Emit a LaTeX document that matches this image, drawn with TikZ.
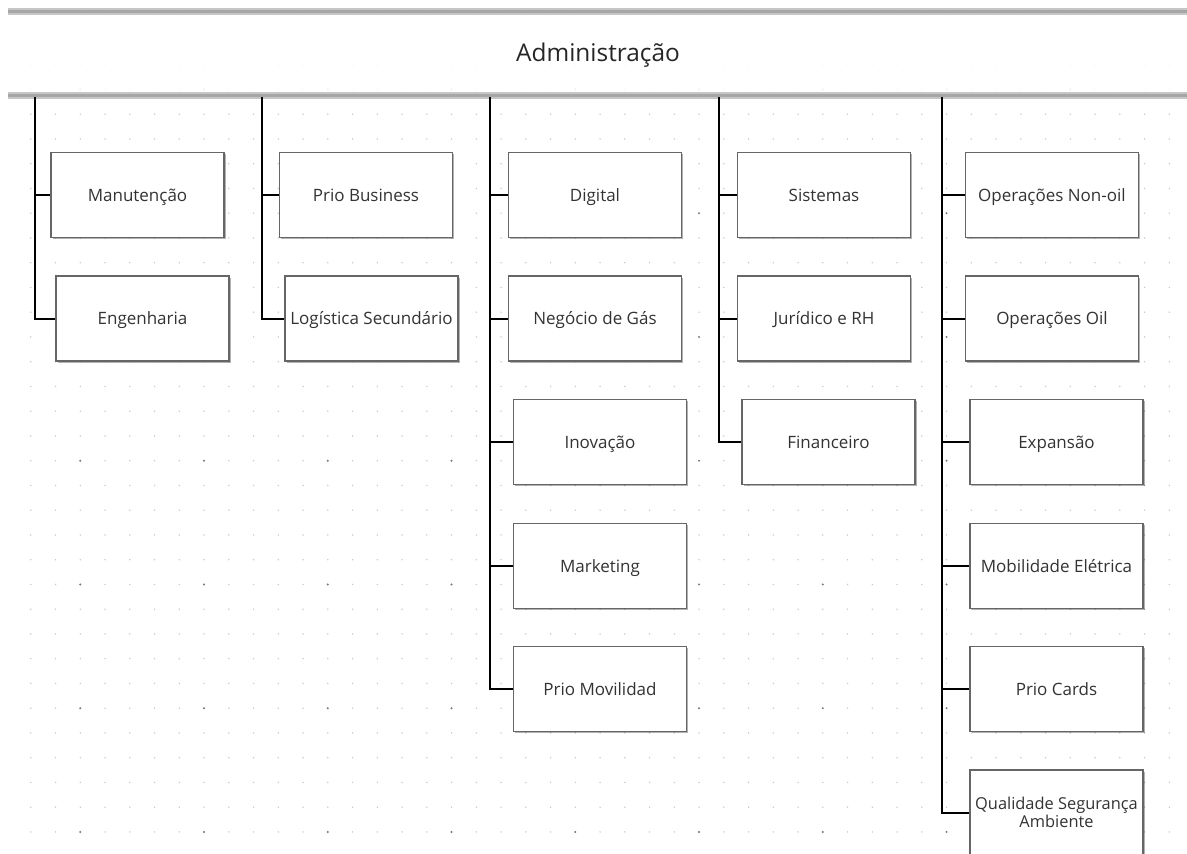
\documentclass[tikz,border=0pt]{standalone}
\usepackage{fontspec}
\setmainfont{Open Sans}
\usetikzlibrary{shadows}
\definecolor{txt}{HTML}{333333}
\definecolor{edge}{HTML}{666666}
\definecolor{dotminor}{HTML}{C8C8C8}
\definecolor{dotmajor}{HTML}{7A7A7A}

\begin{document}
\begin{tikzpicture}[x=1pt,y=-1pt,
  unitbase/.style={draw=edge, line width=1.2pt, fill=white,
    minimum width=173pt, minimum height=85pt, inner sep=0pt,
    text=txt, align=center,
    drop shadow={shadow xshift=1.6pt, shadow yshift=-1.6pt, opacity=0.3, fill=black}},
  unit/.style={unitbase, font=\fontsize{17}{18}\selectfont,
    text height=12.2pt, text depth=0pt},
  unittwo/.style={unitbase, font=\fontsize{16.4}{17.5}\selectfont},
  link/.style={line width=2pt, black},
  bandouter/.style={line width=6.5pt, gray!45},
  bandinner/.style={line width=2.5pt, gray!70},
  title/.style={text=black!85, font=\fontsize{24.4}{28}\selectfont,
    inner sep=0pt, text height=17.4pt, text depth=0pt}]

\useasboundingbox (0,0) rectangle (1187,854);
\fill[white] (0,0) rectangle (1187,854);

% dotted canvas grid, with a darker dot every fifth step
\foreach \i in {1,...,47} {
  \foreach \j in {0,...,34} {
    \fill[dotminor] (6.05+24.75*\i, 15.2+24.75*\j) circle (0.8);
  }
}
\foreach \i in {3,8,...,43} {
  \foreach \j in {3,8,...,33} {
    \fill[dotmajor] (6.05+24.75*\i, 15.2+24.75*\j) circle (1.1);
  }
}

% header band
\fill[white, opacity=0.88] (8,15) rectangle (1187,92);
\draw[bandouter] (8,11.7) -- (1187,11.7);
\draw[bandinner] (8,11.7) -- (1187,11.7);
\draw[bandouter] (8,95.3) -- (1187,95.3);
\draw[bandinner] (8,95.3) -- (1187,95.3);
\node[title] (admin) at (598,53) {Administração};

% departments
\node[unit] (man) at (137.5,195)   {Manutenção};
\node[unit] (eng) at (142.5,318.5) {Engenharia};

\node[unit] (pb)  at (366,195)     {Prio Business};
\node[unit] (log) at (371.5,318.5) {Logística Secundário};

\node[unit] (dig) at (595,195)     {Digital};
\node[unit] (neg) at (595,318.5)   {Negócio de Gás};
\node[unit] (ino) at (600,442)     {Inovação};
\node[unit] (mkt) at (600,566)     {Marketing};
\node[unit] (mov) at (600,689)     {Prio Movilidad};

\node[unit] (sis) at (824,195)     {Sistemas};
\node[unit] (jur) at (824,318.5)   {Jurídico e RH};
\node[unit] (fin) at (828.5,442)   {Financeiro};

\node[unit] (non) at (1052,195)    {Operações Non-oil};
\node[unit] (oil) at (1052,318.5)  {Operações Oil};
\node[unit] (exp) at (1056.5,442)  {Expansão};
\node[unit] (mob) at (1056.5,566)  {Mobilidade Elétrica};
\node[unit] (crd) at (1056.5,689)  {Prio Cards};
\node[unittwo] (qsa) at (1056.5,812.5) {Qualidade Segurança\\Ambiente};

% trunk lines hanging from the header
\coordinate (t1) at (35,97);
\coordinate (t2) at (262,97);
\coordinate (t3) at (490,97);
\coordinate (t4) at (719,97);
\coordinate (t5) at (942,97);

\draw[link] (t1) |- (eng.west);
\draw[link] (t1 |- man.west) -- (man.west);

\draw[link] (t2) |- (log.west);
\draw[link] (t2 |- pb.west) -- (pb.west);

\draw[link] (t3) |- (mov.west);
\draw[link] (t3 |- dig.west) -- (dig.west);
\draw[link] (t3 |- neg.west) -- (neg.west);
\draw[link] (t3 |- ino.west) -- (ino.west);
\draw[link] (t3 |- mkt.west) -- (mkt.west);

\draw[link] (t4) |- (fin.west);
\draw[link] (t4 |- sis.west) -- (sis.west);
\draw[link] (t4 |- jur.west) -- (jur.west);

\draw[link] (t5) |- (qsa.west);
\draw[link] (t5 |- non.west) -- (non.west);
\draw[link] (t5 |- oil.west) -- (oil.west);
\draw[link] (t5 |- exp.west) -- (exp.west);
\draw[link] (t5 |- mob.west) -- (mob.west);
\draw[link] (t5 |- crd.west) -- (crd.west);
\end{tikzpicture}
\end{document}
